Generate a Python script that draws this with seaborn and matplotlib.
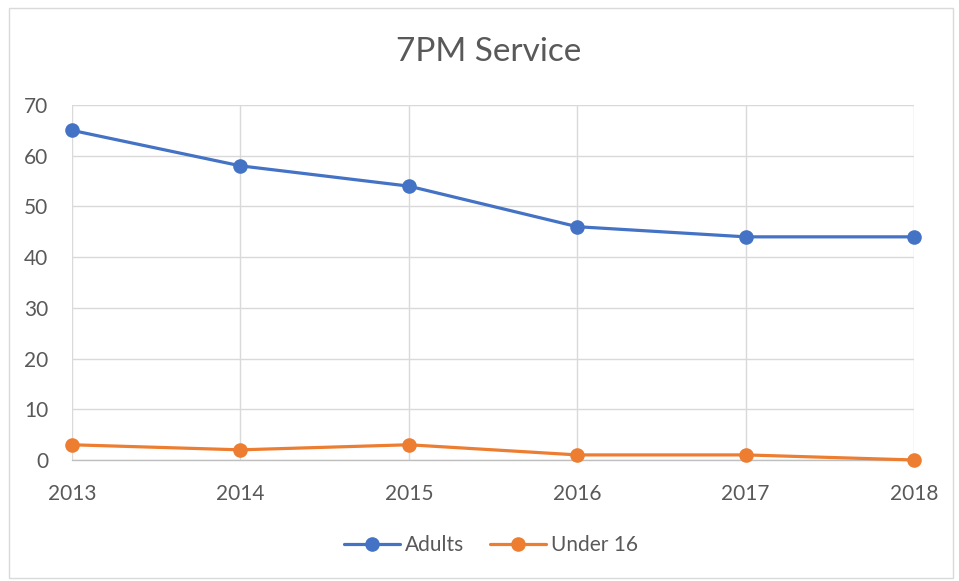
import matplotlib
matplotlib.use("Agg")
import matplotlib.pyplot as plt
import pandas as pd
import seaborn as sns
from matplotlib.patches import Rectangle

years = [2013, 2014, 2015, 2016, 2017, 2018]
adults = [65, 58, 54, 46, 44, 44]
under_16 = [3, 2, 3, 1, 1, 0]
series_names = ["Adults", "Under 16"]
y_ticks = [0, 10, 20, 30, 40, 50, 60, 70]

sns.set_theme(style="white")
plt.rcParams["font.family"] = ["Lato", "DejaVu Sans"]

df = pd.DataFrame({
    "year": years * 2,
    "value": adults + under_16,
    "series": [series_names[0]] * len(years) + [series_names[1]] * len(years),
})

text_color = "#595959"
grid_color = "#D9D9D9"

fig = plt.figure(figsize=(9.59, 5.81), dpi=100)
ax = fig.add_axes([0.0751, 0.2083, 0.878, 0.6110])

sns.lineplot(
    data=df, x="year", y="value", hue="series",
    palette={"Adults": "#4472C4", "Under 16": "#ED7D31"},
    marker="o", markersize=10.5, markeredgewidth=0, linewidth=2.3,
    ax=ax, legend=False, clip_on=False, zorder=3,
)

ax.set_xlim(years[0], years[-1])
ax.set_ylim(0, 70)
ax.set_xticks(years)
ax.set_yticks(y_ticks)
ax.set_xlabel("")
ax.set_ylabel("")
ax.grid(True, color=grid_color, linewidth=1.0)
for side in ["top", "right", "left"]:
    ax.spines[side].set_visible(False)
ax.spines["bottom"].set_color("#BFBFBF")
ax.spines["bottom"].set_linewidth(1.0)
ax.tick_params(axis="both", length=0, labelsize=15, labelcolor=text_color)
ax.tick_params(axis="y", pad=17)
ax.tick_params(axis="x", pad=17)

fig.text(0.509, 0.91, "7PM Service", ha="center", va="center", fontsize=24, color=text_color)

handles = [
    plt.Line2D([], [], color="#4472C4", marker="o", markersize=10.5, markeredgewidth=0, linewidth=2.3),
    plt.Line2D([], [], color="#ED7D31", marker="o", markersize=10.5, markeredgewidth=0, linewidth=2.3),
]
leg = fig.legend(handles, series_names, loc="center", bbox_to_anchor=(0.512, 0.062), ncol=2,
                 frameon=False, fontsize=15, handlelength=2.7, columnspacing=1.2, handletextpad=0.25)
for t in leg.get_texts():
    t.set_color(text_color)

fig.patches.append(Rectangle((0.009, 0.005), 0.985, 0.982, transform=fig.transFigure,
                             fill=False, edgecolor="#D9D9D9", linewidth=1.0))

fig.savefig("out.png", dpi=100)
